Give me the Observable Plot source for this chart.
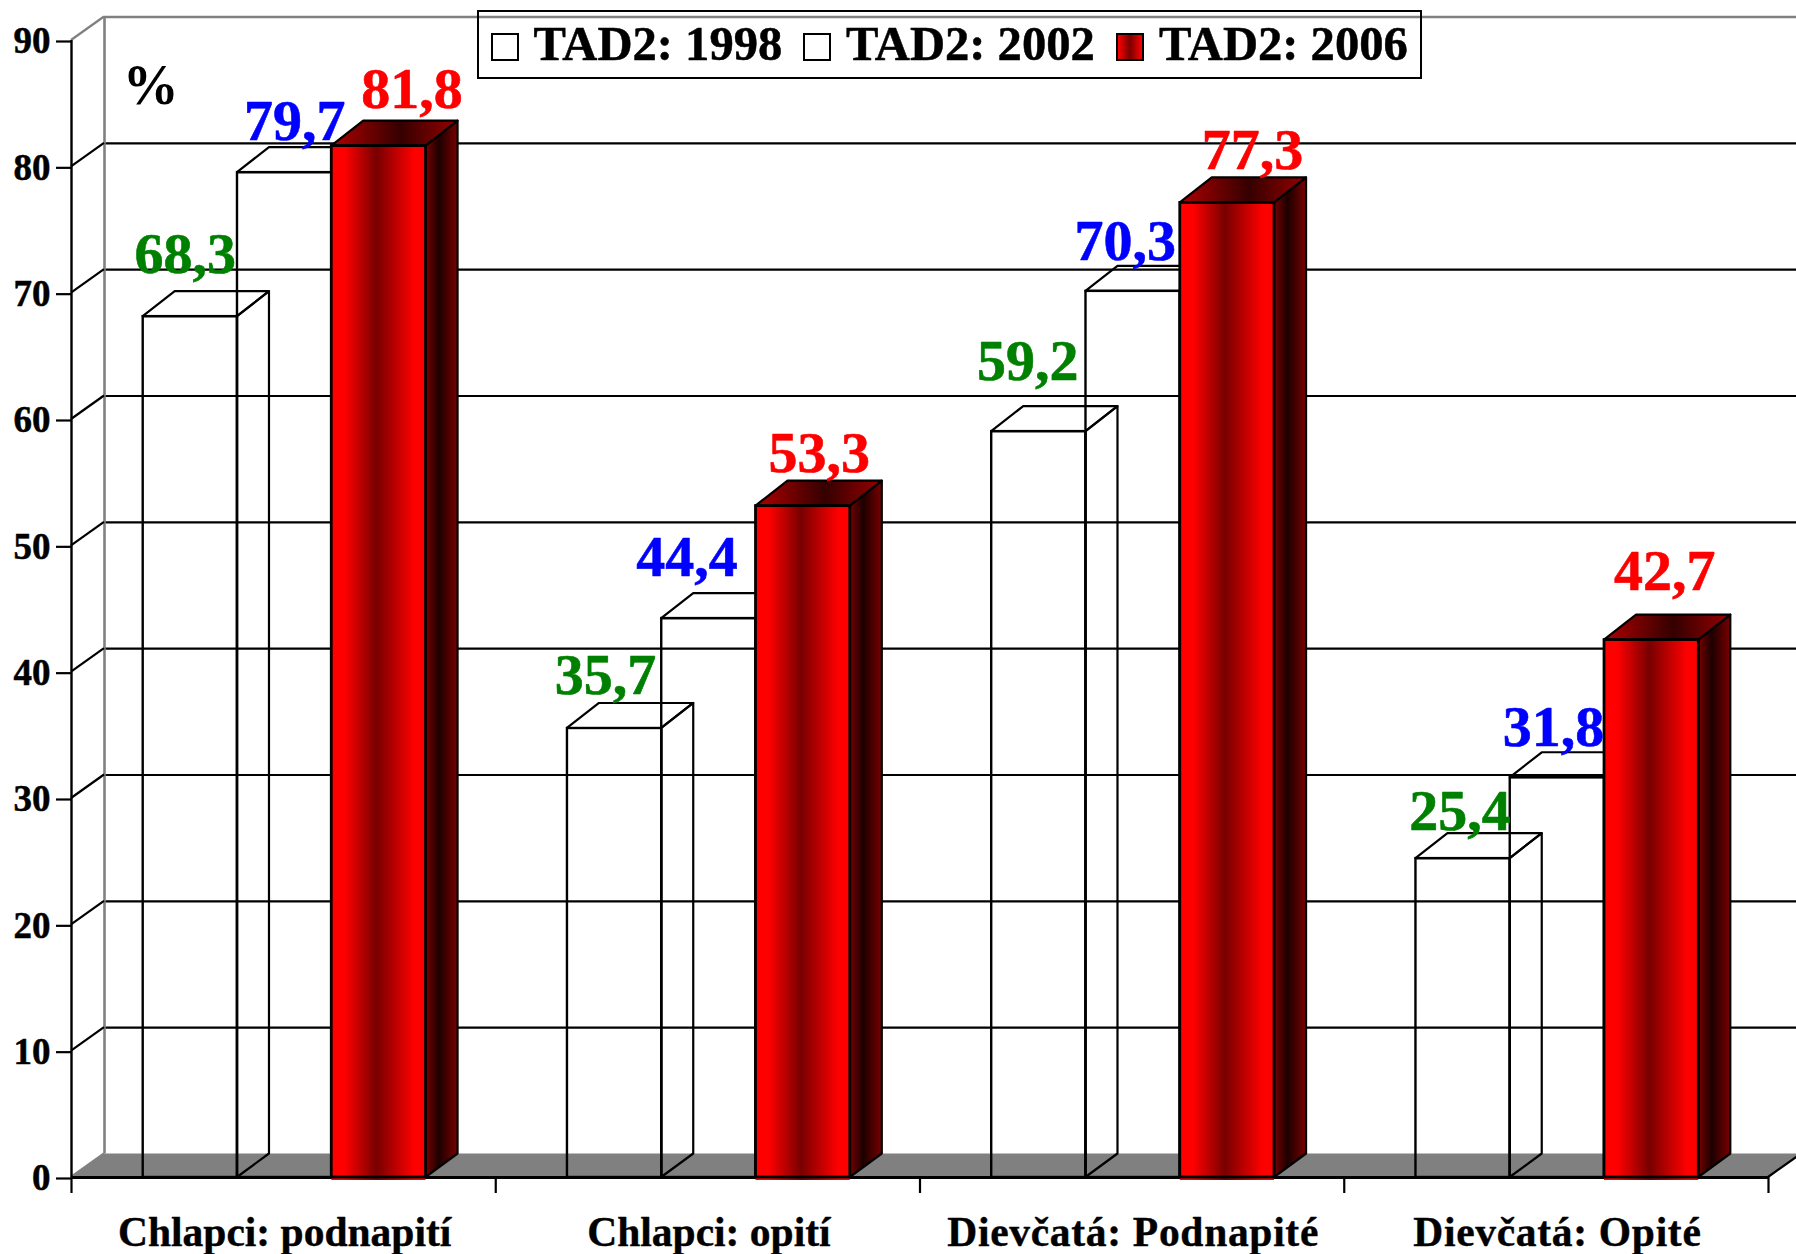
<!DOCTYPE html>
<html>
<head>
<meta charset="utf-8">
<script src="https://cdn.jsdelivr.net/npm/d3@7"></script>
<script src="https://cdn.jsdelivr.net/npm/@observablehq/plot@0.6"></script>
<style>
  html, body { margin: 0; padding: 0; background: #fff; overflow: hidden; }
  #chart { position: relative; width: 1796px; height: 1254px; font-family: "Liberation Serif", serif; }
  #chart svg { overflow: hidden; display: block; }
  #legend { position: absolute; left: 477px; top: 10px; width: 945px; height: 69px; box-sizing: border-box;
    border: 2.5px solid #000; background: none; }
  #legend .sw { position: absolute; top: 20.5px; width: 28px; height: 28px; box-sizing: border-box; border: 2.5px solid #000; background: #fff; }
  #legend .lb { position: absolute; top: 6px; font-size: 48.6px; font-weight: 700; color: #000; line-height: 1.1; white-space: nowrap; -webkit-text-stroke: 0.5px #000; }
  .wide text { letter-spacing: 0.7px; }
</style>
</head>
<body>
<div id="chart"></div>
<script>
const categories = ["Chlapci: podnapití", "Chlapci: opití", "Dievčatá: Podnapité", "Dievčatá: Opité"];
const seriesNames = ["TAD2: 1998", "TAD2: 2002", "TAD2: 2006"];
const values1998 = [68.3, 35.7, 59.2, 25.4];
const values2002 = [79.7, 44.4, 70.3, 31.8];
const values2006 = [81.8, 53.3, 77.3, 42.7];
const yTicks = [0, 10, 20, 30, 40, 50, 60, 70, 80, 90];

// Hand placement of the value labels in the reference, pixels from the bar's top centre
const labelDx = [[-4, -8, -10, -2], [11, -21, -7, -3], [34, 17, 26, 14]];
const labelDy = [[-42, -32, -50, -27], [-31, -41, -29, -30], [-36, -32, -32, -48]];
const labelColors = ["#008000", "#0000ff", "#ff0000"];

const FONT = '"Liberation Serif", serif';
const DX = 33, DY = -23.5;
const SHIFT = 1, DROP = 2; // bars sit a hair right of and below their nominal position in the reference
const allValues = [values1998, values2002, values2006];
const gap = 1 / 6, barW = 2 / 9;

const rows = categories.flatMap((c, g) => allValues.map((vals, s) => ({
  category: c, group: g, series: s, value: vals[g],
  x1: g + gap + s * barW, x2: g + gap + (s + 1) * barW
})));
const wire = rows.filter(d => d.series < 2);
const solid = rows.filter(d => d.series === 2);

// Function mark: draws polygons whose vertices go through Plot's scales.
// Each vertex is [x, y, depth flag, pixel nudge in x, pixel nudge in y].
function faces(items, verts, attrs, closed = true) {
  return (index, {x, y}) => {
    const g = document.createElementNS("http://www.w3.org/2000/svg", "g");
    for (const it of items) {
      const p = document.createElementNS("http://www.w3.org/2000/svg", "path");
      const pts = verts(it).map(([a, b, d, nx = 0, ny = 0]) => [x(a) + d * DX + nx, y(b) + d * DY + ny]);
      p.setAttribute("d", "M" + pts.map(q => q.join(",")).join("L") + (closed ? "Z" : ""));
      for (const k in attrs) p.setAttribute(k, attrs[k]);
      g.appendChild(p);
    }
    return g;
  };
}
const topFace = d => [[d.x1, d.value, 0, SHIFT, DROP], [d.x1, d.value, 1, 0, 0.5], [d.x2, d.value, 1, 0, 0.5], [d.x2, d.value, 0, SHIFT, DROP]];
const sideFace = d => [[d.x2, d.value, 0, SHIFT, DROP], [d.x2, d.value, 1, 0, 0.5], [d.x2, 0, 1, 0, 0], [d.x2, 0, 0, SHIFT, 0]];

function gradients() {
  const ns = "http://www.w3.org/2000/svg";
  const defs = document.createElementNS(ns, "defs");
  const add = (id, stops) => {
    const lg = document.createElementNS(ns, "linearGradient");
    lg.setAttribute("id", id);
    for (const [o, c] of stops) {
      const s = document.createElementNS(ns, "stop");
      s.setAttribute("offset", o); s.setAttribute("stop-color", c);
      lg.appendChild(s);
    }
    defs.appendChild(lg);
  };
  add("frontGrad", [[0, "#ff0000"], [0.14, "#ff0000"], [0.48, "#780000"], [0.88, "#ff0000"], [1, "#ff0000"]]);
  add("sideGrad", [[0, "#780000"], [0.42, "#1c0000"], [1, "#7a0000"]]);
  add("topGrad", [[0, "#b00000"], [0.55, "#350000"], [1, "#980000"]]);
  return defs;
}

const gridTicks = yTicks.filter(t => t > 0 && t < 90);
const chart = Plot.plot({
  width: 1796, height: 1254,
  marginLeft: 71, marginRight: 28, marginTop: 40, marginBottom: 77,
  style: {background: "#fff", fontFamily: FONT, overflow: "hidden"},
  x: {type: "linear", domain: [0, 4]},
  y: {type: "linear", domain: [0, 90]},
  marks: [
    gradients,
    // floor
    faces([0], () => [[0, 0, 0], [0, 0, 1], [4, 0, 1], [4, 0, 0]], {fill: "#808080", stroke: "none"}),
    // back wall
    Plot.ruleY(gridTicks, {x1: 0, x2: 4, dx: DX, dy: DY, stroke: "#000", strokeWidth: 2.2}),
    Plot.ruleY([90], {x1: 0, x2: 4, dx: DX, dy: DY, stroke: "#808080", strokeWidth: 2.6}),
    Plot.ruleX([0], {y1: 0, y2: 90, dx: DX, dy: DY, stroke: "#808080", strokeWidth: 2.6}),
    faces(gridTicks, t => [[0, t, 0], [0, t, 1]], {fill: "none", stroke: "#000", "stroke-width": 2.2}, false),
    faces([0, 90], t => [[0, t, 0], [0, t, 1]], {fill: "none", stroke: "#808080", "stroke-width": 2.2}, false),
    faces([0], () => [[4, 0, 0], [4, 0, 1]], {fill: "none", stroke: "#000", "stroke-width": 2.2}, false),
    // axes
    Plot.axisY(yTicks, {anchor: "left", tickSize: 15, tickPadding: 6, fontSize: 37, fontWeight: 700, fontFamily: FONT, stroke: "#000", strokeWidth: 2.2, fill: "#000", textStroke: "#000", textStrokeWidth: 0.5, dy: 1, label: null}),
    Plot.axisX([0, 1, 2, 3, 4], {anchor: "bottom", tickSize: 16, tickFormat: () => "", stroke: "#000", strokeWidth: 2.2, label: null}),
    Plot.ruleX([0], {y1: 0, y2: 90, stroke: "#000", strokeWidth: 2.4}),
    Plot.ruleY([0], {x1: 0, x2: 4, stroke: "#000", strokeWidth: 2.8}),
    // wireframe bars
    Plot.rectY(wire, {x1: "x1", x2: "x2", y1: 0, y2: "value", dx: SHIFT, insetTop: DROP, fill: "none", stroke: "#000", strokeWidth: 2.4}),
    faces(wire, topFace, {fill: "none", stroke: "#000", "stroke-width": 2.2, "stroke-linejoin": "round"}),
    faces(wire, sideFace, {fill: "none", stroke: "#000", "stroke-width": 2.2, "stroke-linejoin": "round"}),
    // solid bars
    faces(solid, sideFace, {fill: "url(#sideGrad)", stroke: "#000", "stroke-width": 2.2, "stroke-linejoin": "round"}),
    faces(solid, topFace, {fill: "url(#topGrad)", stroke: "#000", "stroke-width": 2.2, "stroke-linejoin": "round"}),
    Plot.rectY(solid, {x1: "x1", x2: "x2", y1: 0, y2: "value", dx: SHIFT, insetTop: DROP, fill: "url(#frontGrad)", insetBottom: -3}),
    Plot.rectY(solid, {x1: "x1", x2: "x2", y1: 0, y2: "value", dx: SHIFT, insetTop: DROP, fill: "none", stroke: "#000", strokeWidth: 2.8}),
    // value labels
    ...rows.map(r => Plot.text([r], {
      x: d => (d.x1 + d.x2) / 2, y: "value",
      text: d => d3.format(".1f")(d.value).replace(".", ","),
      dx: labelDx[r.series][r.group], dy: labelDy[r.series][r.group],
      lineAnchor: "bottom", textAnchor: "middle",
      fontSize: 58, fontWeight: 700, fontFamily: FONT, fill: labelColors[r.series],
      stroke: labelColors[r.series], strokeWidth: 0.6
    })),
    // category labels
    ...categories.map((c, i) => Plot.text([c], {
      x: () => i + 0.5, y: () => 0, text: d => d, dx: 1, dy: 68,
      lineAnchor: "bottom", textAnchor: "middle",
      fontSize: 41.5, fontWeight: 700, fontFamily: FONT, fill: "#000",
      stroke: "#000", strokeWidth: 0.4,
      className: i >= 2 ? "wide" : "tight"
    })),
    // unit
    Plot.text(["%"], {
      x: () => 0.18, y: () => 85, text: d => d, dx: 3, lineAnchor: "bottom", textAnchor: "middle",
      fontSize: 56, fontWeight: 700, fontFamily: FONT, fill: "#000"
    })
  ]
});

const root = document.getElementById("chart");
root.appendChild(chart);

// Legend, overlapping the plot as in the reference (its box is see-through: the wall's top edge shows)
const legend = document.createElement("div");
legend.id = "legend";
const swatchLeft = [12, 324, 637];
const labelLeft = [54.5, 367, 680];
seriesNames.forEach((name, i) => {
  const sw = document.createElement("div");
  sw.className = "sw";
  sw.style.left = swatchLeft[i] + "px";
  if (i === 2) sw.style.background = "linear-gradient(90deg,#ff0000 0%,#780000 50%,#ff0000 100%)";
  const lb = document.createElement("div");
  lb.className = "lb";
  lb.style.left = labelLeft[i] + "px";
  lb.textContent = name;
  legend.append(sw, lb);
});
root.appendChild(legend);
</script>
</body>
</html>
